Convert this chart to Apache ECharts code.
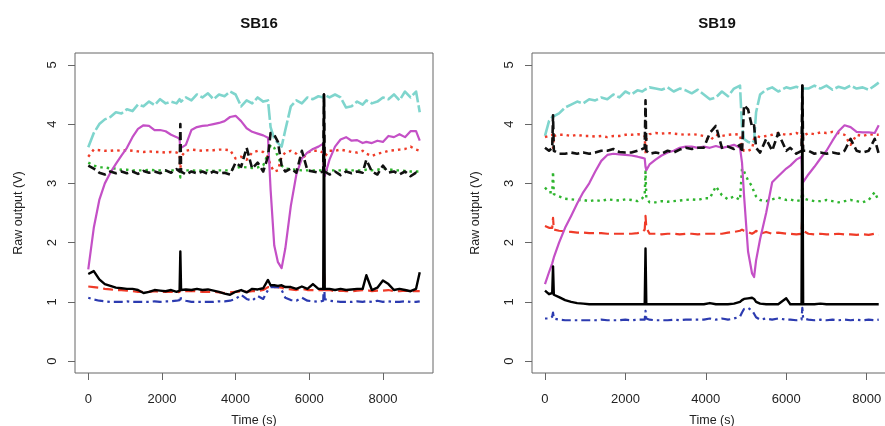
<!DOCTYPE html>
<html><head><meta charset="utf-8">
<script src="https://cdn.jsdelivr.net/npm/echarts@6/dist/echarts.min.js"></script>
<style>html,body{margin:0;padding:0;background:#fff}#c{width:885px;height:426px}</style>
</head><body><div id="c"></div>
<script>
// ---------------- Data ----------------
const panelTitles = ['SB16', 'SB19'];
const xTicks = [0, 2000, 4000, 6000, 8000];
const yTicks = [0, 1, 2, 3, 4, 5];

// SB16 (left panel)
const T16 = [0,150,300,450,600,750,900,1050,1200,1350,
  1500,1650,1800,1950,2100,2250,2400,2480,2500,2520,
  2650,2800,2950,3100,3250,3400,3550,3700,3850,4000,
  4150,4300,4450,4600,4750,4880,4950,5050,5150,5250,
  5350,5500,5650,5800,5950,6100,6250,6380,6400,6420,
  6550,6700,6850,7000,7150,7300,7450,7550,7700,7850,
  8000,8150,8300,8450,8600,8750,8900,9000];
const cyan16 = [3.61,3.85,4.0,4.08,4.12,4.2,4.18,4.25,4.22,4.33,
  4.3,4.38,4.32,4.42,4.35,4.38,4.35,4.42,4.4,4.38,
  4.45,4.4,4.5,4.45,4.52,4.42,4.5,4.47,4.55,4.5,
  4.3,4.4,4.35,4.45,4.38,4.4,3.95,3.75,3.68,3.62,
  3.9,4.3,4.4,4.35,4.45,4.42,4.47,4.45,4.5,4.47,
  4.45,4.5,4.45,4.28,4.3,4.38,4.33,4.4,4.35,4.38,
  4.45,4.42,4.5,4.4,4.55,4.45,4.55,4.2];
const magenta16 = [1.55,2.25,2.72,3.0,3.18,3.33,3.47,3.6,3.78,3.92,
  3.98,3.97,3.9,3.9,3.88,3.82,3.78,3.75,3.55,3.6,
  3.65,3.9,3.95,3.97,3.98,4.0,4.02,4.05,4.12,4.14,
  4.05,3.93,3.87,3.84,3.81,3.77,2.9,1.95,1.67,1.57,
  1.9,2.62,3.15,3.42,3.52,3.58,3.62,3.67,3.2,3.12,
  3.4,3.62,3.74,3.78,3.72,3.73,3.68,3.7,3.68,3.72,
  3.7,3.8,3.78,3.83,3.78,3.88,3.88,3.72];
const redDot16 = [3.45,3.57,3.56,3.55,3.55,3.56,3.55,3.56,3.55,3.54,
  3.53,3.54,3.53,3.53,3.52,3.53,3.52,3.5,3.2,3.45,
  3.55,3.57,3.56,3.55,3.56,3.56,3.57,3.57,3.56,3.42,
  3.45,3.4,3.52,3.55,3.53,3.45,3.3,3.2,3.22,3.45,
  3.52,3.55,3.5,3.4,3.52,3.55,3.55,3.52,3.3,3.45,
  3.55,3.55,3.57,3.55,3.53,3.52,3.55,3.5,3.46,3.5,
  3.52,3.55,3.56,3.57,3.58,3.62,3.57,3.55];
const green16 = [3.35,3.3,3.27,3.27,3.25,3.25,3.23,3.23,3.22,3.22,
  3.22,3.23,3.22,3.22,3.21,3.22,3.22,3.22,3.1,3.18,
  3.22,3.22,3.21,3.22,3.22,3.21,3.22,3.22,3.22,3.26,
  3.28,3.27,3.26,3.27,3.3,3.5,3.65,3.6,3.45,3.3,
  3.25,3.24,3.23,3.22,3.22,3.22,3.22,3.22,3.2,3.22,
  3.22,3.22,3.22,3.23,3.22,3.22,3.22,3.23,3.22,3.23,
  3.25,3.24,3.22,3.22,3.21,3.2,3.2,3.2];
const blackDash16 = [3.3,3.25,3.18,3.15,3.2,3.17,3.2,3.17,3.2,3.16,
  3.21,3.18,3.2,3.17,3.22,3.18,3.24,3.2,4.0,3.2,
  3.15,3.2,3.17,3.2,3.16,3.2,3.17,3.18,3.15,3.35,
  3.28,3.6,3.25,3.35,3.2,3.45,3.85,3.82,3.7,3.3,
  3.2,3.25,3.18,3.55,3.22,3.2,3.18,3.2,4.5,3.2,
  3.15,3.2,3.14,3.2,3.17,3.2,3.18,3.4,3.2,3.15,
  3.3,3.18,3.2,3.15,3.2,3.12,3.18,3.15];
const redDash16 = [1.26,1.25,1.24,1.22,1.21,1.2,1.2,1.19,1.18,1.17,
  1.17,1.17,1.18,1.17,1.17,1.17,1.16,1.17,1.25,1.18,
  1.18,1.18,1.18,1.17,1.17,1.17,1.16,1.15,1.16,1.17,
  1.18,1.17,1.18,1.18,1.2,1.25,1.25,1.25,1.25,1.24,
  1.22,1.21,1.2,1.22,1.2,1.2,1.2,1.2,1.55,1.2,
  1.2,1.18,1.19,1.18,1.18,1.19,1.2,1.2,1.18,1.19,
  1.19,1.2,1.18,1.18,1.19,1.18,1.18,1.18];
const blackSolid16 = [1.47,1.52,1.38,1.3,1.27,1.24,1.23,1.22,1.22,1.2,
  1.15,1.17,1.2,1.19,1.18,1.2,1.17,1.19,1.85,1.2,
  1.21,1.2,1.22,1.2,1.21,1.19,1.17,1.14,1.12,1.17,
  1.2,1.16,1.22,1.21,1.23,1.37,1.28,1.28,1.27,1.28,
  1.25,1.25,1.22,1.26,1.22,1.3,1.22,1.22,4.5,1.22,
  1.22,1.2,1.22,1.2,1.21,1.22,1.22,1.45,1.2,1.24,
  1.36,1.3,1.2,1.22,1.2,1.18,1.22,1.5];
const blue16 = [1.07,1.04,1.02,1.01,1.0,1.0,1.0,1.01,1.0,1.0,
  1.0,1.0,1.01,1.0,1.01,1.01,1.02,1.03,1.1,1.05,
  1.02,1.0,1.0,1.0,1.0,1.0,1.01,1.01,1.02,1.05,
  1.12,1.05,1.02,1.1,1.05,1.2,1.25,1.25,1.25,1.2,
  1.07,1.03,1.02,1.07,1.02,1.01,1.0,1.02,1.4,1.05,
  1.02,1.01,1.0,1.0,1.0,1.01,1.0,1.01,1.0,1.02,
  1.0,1.01,1.0,1.0,1.01,1.0,1.0,1.01];

// SB19 (right panel)
const T19 = [0,100,180,200,220,350,500,650,800,950,
  1100,1250,1400,1550,1700,1850,2000,2150,2300,2420,
  2480,2500,2520,2600,2750,2900,3050,3200,3350,3500,
  3650,3800,3950,4100,4250,4400,4550,4700,4850,4900,
  4950,5050,5150,5200,5250,5350,5500,5650,5800,6000,
  6100,6250,6380,6400,6420,6550,6700,6850,7000,7150,
  7300,7450,7600,7750,7900,8050,8200,8300];
const cyan19 = [3.8,4.05,4.12,4.15,4.15,4.18,4.28,4.33,4.38,4.35,
  4.42,4.4,4.45,4.42,4.5,4.45,4.55,4.5,4.57,4.55,
  4.58,4.57,4.6,4.62,4.6,4.58,4.62,4.55,4.6,4.57,
  4.52,4.58,4.5,4.42,4.45,4.55,4.47,4.6,4.65,3.95,
  3.75,3.7,3.68,3.72,4.2,4.5,4.58,4.62,4.55,4.62,
  4.6,4.63,4.6,4.62,4.58,4.6,4.65,4.6,4.65,4.58,
  4.63,4.6,4.65,4.6,4.62,4.58,4.65,4.7];
const redDot19 = [3.78,3.8,3.82,3.6,3.8,3.82,3.82,3.8,3.82,3.8,
  3.8,3.79,3.8,3.78,3.8,3.8,3.82,3.82,3.83,3.82,
  3.8,3.5,3.75,3.83,3.85,3.84,3.85,3.84,3.83,3.82,
  3.83,3.82,3.8,3.72,3.82,3.8,3.82,3.83,3.82,3.6,
  3.55,3.55,3.58,3.75,3.8,3.78,3.8,3.82,3.85,3.82,
  3.83,3.85,3.82,3.5,3.8,3.85,3.83,3.86,3.85,3.87,
  3.85,3.82,3.65,3.82,3.8,3.83,3.82,3.82];
const blackDash19 = [3.6,3.55,3.6,4.15,3.55,3.5,3.5,3.52,3.5,3.52,
  3.5,3.52,3.55,3.55,3.58,3.53,3.52,3.52,3.55,3.58,
  3.6,4.4,3.55,3.5,3.52,3.5,3.55,3.52,3.57,3.6,
  3.58,3.6,3.6,3.85,3.97,3.6,3.62,3.58,3.65,3.52,
  4.32,4.25,3.95,3.98,3.6,3.52,3.75,3.55,3.85,3.55,
  3.6,3.5,3.55,4.65,3.55,3.55,3.5,3.52,3.5,3.52,
  3.5,3.55,3.75,3.55,3.52,3.55,3.75,3.5];
const magenta19 = [1.3,1.5,1.65,1.7,1.75,2.0,2.25,2.45,2.66,2.85,
  3.0,3.2,3.38,3.48,3.5,3.49,3.48,3.47,3.45,3.43,
  3.42,3.28,3.22,3.32,3.4,3.47,3.52,3.55,3.6,3.62,
  3.62,3.6,3.62,3.6,3.63,3.6,3.62,3.65,3.6,3.35,
  2.8,1.85,1.48,1.42,1.7,2.06,2.5,3.02,3.12,3.25,
  3.3,3.4,3.45,3.1,3.02,3.15,3.28,3.42,3.55,3.72,
  3.88,3.98,3.95,3.87,3.86,3.86,3.85,3.98];
const green19 = [2.93,2.85,2.85,3.2,2.82,2.78,2.74,2.73,2.72,2.72,
  2.7,2.72,2.7,2.73,2.72,2.71,2.73,2.72,2.7,2.75,
  2.8,3.2,2.75,2.68,2.68,2.7,2.69,2.7,2.71,2.72,
  2.73,2.72,2.75,2.75,2.95,2.8,2.73,2.78,2.72,3.25,
  3.2,3.05,2.95,2.85,2.78,2.72,2.7,2.73,2.76,2.72,
  2.73,2.7,2.72,2.95,2.75,2.72,2.7,2.7,2.72,2.7,
  2.68,2.7,2.72,2.7,2.68,2.72,2.85,2.7];
const redDash19 = [2.28,2.25,2.25,2.42,2.22,2.2,2.19,2.18,2.17,2.17,
  2.16,2.16,2.16,2.15,2.15,2.15,2.15,2.15,2.16,2.18,
  2.22,2.45,2.25,2.15,2.15,2.14,2.15,2.15,2.14,2.15,
  2.15,2.14,2.15,2.15,2.15,2.15,2.17,2.18,2.2,2.22,
  2.2,2.18,2.15,2.17,2.2,2.15,2.18,2.15,2.17,2.15,
  2.15,2.14,2.15,2.45,2.2,2.15,2.14,2.15,2.14,2.14,
  2.15,2.14,2.14,2.13,2.14,2.13,2.15,2.13];
const blackSolid19 = [1.19,1.13,1.15,1.6,1.12,1.08,1.03,1.0,0.98,0.97,
  0.96,0.96,0.96,0.96,0.96,0.96,0.96,0.96,0.96,0.96,
  0.96,1.9,0.96,0.96,0.96,0.96,0.96,0.96,0.96,0.96,
  0.96,0.96,0.96,0.98,0.96,0.96,0.96,0.97,1.0,1.03,
  1.05,1.06,1.07,1.05,1.0,0.97,0.96,0.96,0.96,1.06,
  0.96,0.96,0.96,4.65,0.96,0.96,0.96,0.97,0.96,0.96,
  0.96,0.96,0.96,0.96,0.96,0.96,0.96,0.96];
const blue19 = [0.72,0.72,0.75,0.82,0.72,0.7,0.69,0.69,0.69,0.69,
  0.69,0.69,0.7,0.69,0.69,0.69,0.7,0.69,0.7,0.7,
  0.7,0.85,0.72,0.7,0.69,0.69,0.69,0.7,0.69,0.7,
  0.7,0.7,0.7,0.72,0.7,0.72,0.7,0.72,0.75,0.82,
  0.88,0.9,0.85,0.8,0.74,0.7,0.72,0.7,0.72,0.7,
  0.7,0.69,0.7,0.9,0.72,0.7,0.69,0.7,0.69,0.7,
  0.69,0.7,0.69,0.7,0.69,0.7,0.69,0.7];

// ---------------- Chart ----------------
const FONT = '"Liberation Sans", Arial, sans-serif';
const styles = {
  cyan:       { color: '#7fd5cd', width: 2.6, type: [16, 3] },
  magenta:    { color: '#c450c6', width: 2.2, type: 'solid' },
  redDot:     { color: '#ef3b28', width: 2.4, type: [2.5, 4] },
  green:      { color: '#2fb52f', width: 2.4, type: [2.5, 4] },
  blackDash:  { color: '#111111', width: 2.6, type: [8, 4] },
  redDash:    { color: '#ef3b28', width: 2.2, type: [10, 5] },
  blue:       { color: '#2c3bb0', width: 2.2, type: [2.5, 4, 9, 4] },
  blackSolid: { color: '#000000', width: 2.4, type: 'solid' }
};
const panels = [
  { T: T16, s: { cyan: cyan16, magenta: magenta16, redDot: redDot16, green: green16, blackDash: blackDash16, redDash: redDash16, blue: blue16, blackSolid: blackSolid16 } },
  { T: T19, s: { cyan: cyan19, magenta: magenta19, redDot: redDot19, green: green19, blackDash: blackDash19, redDash: redDash19, blue: blue19, blackSolid: blackSolid19 } }
];
const order = ['cyan', 'redDot', 'green', 'redDash', 'blue', 'magenta', 'blackDash', 'blackSolid'];

const grids = [
  { left: 75, top: 53, width: 358, height: 320 },
  { left: 532, top: 53, width: 360, height: 320 }
];
const xRanges = [[-360, 9360], [-323, 8630]];

const series = [];
panels.forEach((p, pi) => {
  order.forEach(k => {
    const st = styles[k];
    series.push({
      type: 'line', xAxisIndex: pi, yAxisIndex: pi, symbol: 'none', clip: true,
      animation: false,
      data: p.T.map((t, i) => [t, p.s[k][i]]),
      lineStyle: { color: st.color, width: st.width, type: st.type, cap: 'butt', join: 'round' }
    });
  });
});

const chart = echarts.init(document.getElementById('c'), null, { renderer: 'canvas' });
chart.setOption({
  animation: false,
  backgroundColor: '#ffffff',
  title: panelTitles.map((t, i) => ({
    text: t, left: grids[i].left + (i === 0 ? 179 : 180), top: 11, textAlign: 'center',
    textStyle: { fontFamily: FONT, fontWeight: 'bold', fontSize: 15, color: '#111' }
  })),
  grid: grids.map(g => Object.assign({ show: true, borderColor: '#666', borderWidth: 1, backgroundColor: 'transparent', containLabel: false, outerBoundsMode: 'none' }, g)),
  xAxis: [0, 1].map(i => ({
    type: 'value', gridIndex: i, min: xRanges[i][0], max: xRanges[i][1],
    name: 'Time (s)', nameLocation: 'middle', nameGap: 41,
    nameTextStyle: { fontFamily: FONT, fontSize: 12.5, color: '#222' },
    axisLine: { show: false, onZero: false },
    axisTick: { show: true, inside: false, length: 7, customValues: xTicks, lineStyle: { color: '#666' } },
    axisLabel: { customValues: xTicks, margin: 20, fontFamily: FONT, fontSize: 13, color: '#222', formatter: v => String(v) },
    splitLine: { show: false }
  })),
  yAxis: [0, 1].map(i => ({
    type: 'value', gridIndex: i, min: -0.2, max: 5.2,
    name: 'Raw output (V)', nameLocation: 'middle', nameGap: 50, nameRotate: 90,
    nameTextStyle: { fontFamily: FONT, fontSize: 12.5, color: '#222' },
    axisLine: { show: false, onZero: false },
    axisTick: { show: true, inside: false, length: 7, customValues: yTicks, lineStyle: { color: '#666' } },
    axisLabel: { customValues: yTicks, rotate: 90, margin: 16, fontFamily: FONT, fontSize: 13, color: '#222', formatter: v => String(v) },
    splitLine: { show: false }
  })),
  series: series
});
</script>
</body></html>
